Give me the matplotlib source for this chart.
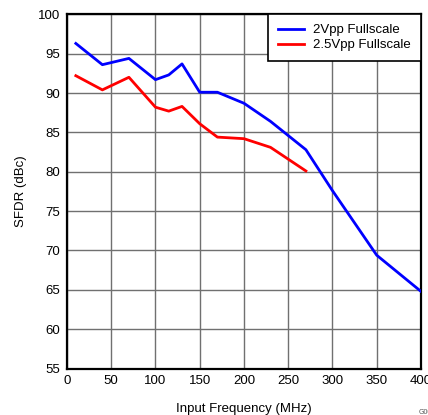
import matplotlib
matplotlib.use("Agg")
import matplotlib.pyplot as plt

plt.rcParams['font.family'] = ['Liberation Sans', 'DejaVu Sans']

freq_2vpp = [10, 40, 70, 100, 115, 130, 150, 170, 200, 230, 270, 300, 350, 400]
sfdr_2vpp = [96.3, 93.6, 94.4, 91.7, 92.3, 93.7, 90.1, 90.1, 88.7, 86.4, 82.8, 77.6, 69.4, 64.8]
freq_25vpp = [10, 40, 70, 100, 115, 130, 150, 170, 200, 230, 270]
sfdr_25vpp = [92.2, 90.4, 92.0, 88.2, 87.7, 88.3, 86.1, 84.4, 84.2, 83.1, 80.1]
xticks = [0, 50, 100, 150, 200, 250, 300, 350, 400]
yticks = [55, 60, 65, 70, 75, 80, 85, 90, 95, 100]

fig = plt.figure(figsize=(4.28, 4.15), dpi=100)
ax = fig.add_axes([0.1565, 0.112, 0.827, 0.8535])
ax.plot(freq_2vpp, sfdr_2vpp, color='#0000ff', lw=2.0, label='2Vpp Fullscale', zorder=3)
ax.plot(freq_25vpp, sfdr_25vpp, color='#ff0000', lw=2.0, label='2.5Vpp Fullscale', zorder=3)
ax.set_xlim(0, 400)
ax.set_ylim(55, 100)
ax.set_xticks(xticks)
ax.set_yticks(yticks)
ax.grid(True, color='#707070', lw=1.0)
ax.set_axisbelow(True)
for s in ax.spines.values():
    s.set_linewidth(1.6)
    s.set_color('black')
ax.tick_params(length=0, labelsize=9.5, pad=5)
ax.set_xlabel('Input Frequency (MHz)', fontsize=9.5, labelpad=11)
ax.set_ylabel('SFDR (dBc)', fontsize=9.5, labelpad=8)
leg = ax.legend(loc='upper right', fontsize=9.5, fancybox=False, framealpha=1,
                edgecolor='black', borderaxespad=0, handlelength=2.0, handletextpad=0.7,
                labelspacing=0.2, borderpad=0.75)
leg.get_frame().set_linewidth(1.2)
fig.text(419/428, 1 - 412/415, 'G001', fontsize=5, color='#555555', va='center', ha='left')
fig.savefig('out.png', dpi=100)
